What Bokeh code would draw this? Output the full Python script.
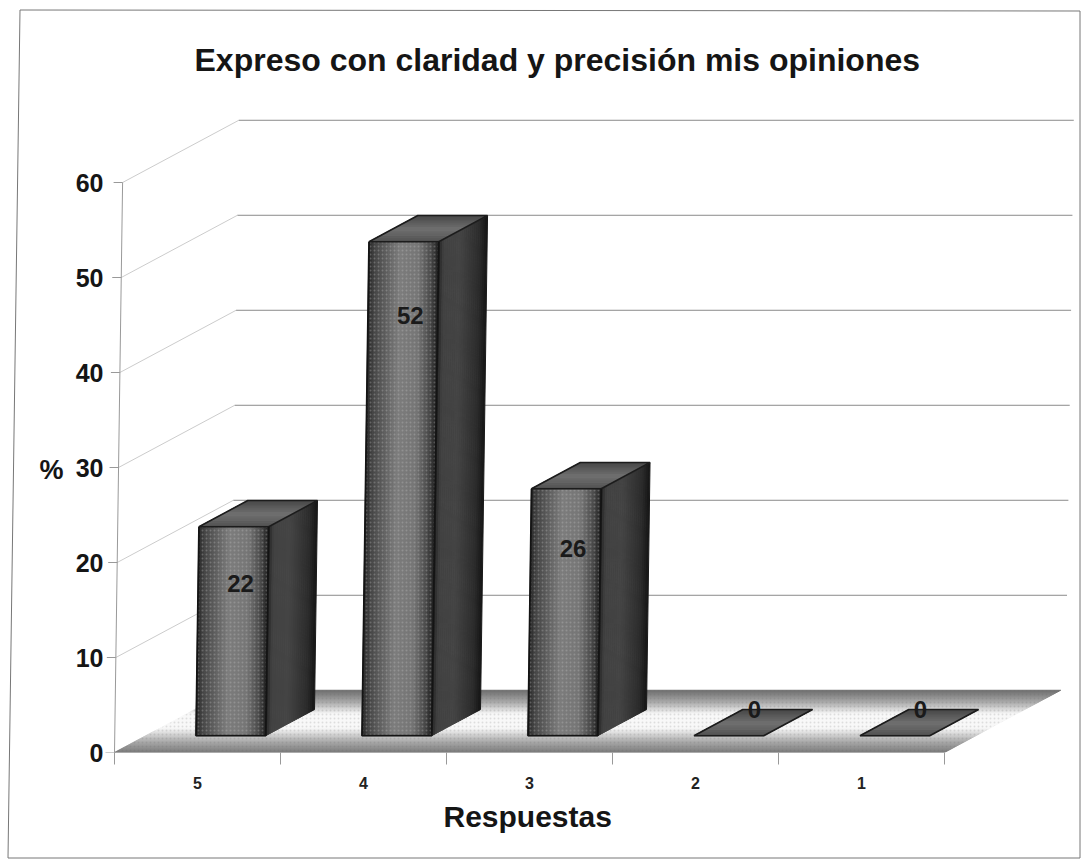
from urllib.parse import quote
from bokeh.plotting import figure
from bokeh.models import Title, LinearAxis, FixedTicker, Range1d
from bokeh.core.properties import value
from bokeh.embed import file_html
from bokeh.resources import INLINE

TITLE = "Expreso con claridad y precisión mis opiniones"
X_TITLE = "Respuestas"
Y_TITLE = "%"
Y_TITLE_AT = 29.7
categories = ["5", "4", "3", "2", "1"]
values = [22, 52, 26, 0, 0]
y_ticks = [0, 10, 20, 30, 40, 50, 60]

FONT = "Liberation Sans"
PX_X = 166.0   # px per category
PX_Y = 9.5     # px per unit
DX, DY = 0.70, 6.55     # full depth of the floor, in data units
LEAN = 0.135 / PX_X     # the scan leans: categories per value unit
BAR_W = 0.42
F_FRONT, F_BACK = 0.27, 0.69
BAR_OFF = 0.302


def proj(c, v, d=0.0):
    return (c + d * DX + v * LEAN, v + d * DY)


def mix(stops, t):
    for (t0, g0), (t1, g1) in zip(stops, stops[1:]):
        if t <= t1:
            g = g0 + (g1 - g0) * (t - t0) / (t1 - t0)
            g = int(round(g))
            return "#%02x%02x%02x" % (g, g, g)
    g = stops[-1][1]
    return "#%02x%02x%02x" % (g, g, g)


W, H = 1083, 860
svg = ("<svg xmlns='http://www.w3.org/2000/svg' width='1083' height='860'>"
       "<polygon points='20,10 1080,11 1080,858 8,858' fill='white' stroke='#777777' stroke-width='1'/></svg>")
p = figure(width=W, height=H, output_backend="svg", toolbar_location=None,
           x_range=Range1d(-10 / PX_X, 969 / PX_X), y_range=Range1d(0, 652 / PX_Y),
           min_border_left=104, min_border_right=0, min_border_top=100, min_border_bottom=108,
           background_fill_color=None, border_fill_color=None)
p.styles = {"background-image": 'url("data:image/svg+xml,%s")' % quote(svg)}
p.outline_line_color = None
p.grid.visible = False

# title
p.title.text = TITLE
p.title.text_font = FONT
p.title.text_font_size = "32px"
p.title.text_font_style = "bold"
p.title.text_color = "#151515"
p.title.align = "left"
p.title.offset = 90
p.title.standoff = 46

# real axes
xa = p.xaxis[0]
xa.ticker = FixedTicker(ticks=[i + 0.5 for i in range(len(categories))],
                        minor_ticks=list(range(len(categories) + 1)))
xa.major_label_overrides = {i + 0.5: c for i, c in enumerate(categories)}
xa.major_tick_in = 0
xa.major_tick_out = 0
xa.minor_tick_in = 0
xa.minor_tick_out = 12
xa.minor_tick_line_color = "#999999"
xa.axis_line_color = None
xa.major_label_standoff = 12
xa.major_label_text_font = FONT
xa.major_label_text_font_style = "bold"
xa.major_label_text_font_size = "16px"
xa.major_label_text_color = "#222222"

ya = p.yaxis[0]
ya.ticker = FixedTicker(ticks=y_ticks)
ya.major_tick_in = 0
ya.major_tick_out = 0
ya.minor_tick_line_color = None
ya.axis_line_color = None
ya.major_label_standoff = 1
ya.major_label_text_font = FONT
ya.major_label_text_font_style = "bold"
ya.major_label_text_font_size = "25px"
ya.major_label_text_color = "#151515"

# axis titles: "%" sits beside the value axis, "Respuestas" under the category axis
ya2 = LinearAxis(ticker=FixedTicker(ticks=[Y_TITLE_AT]), major_label_overrides={Y_TITLE_AT: Y_TITLE})
ya2.major_tick_in = 0
ya2.major_tick_out = 0
ya2.minor_tick_line_color = None
ya2.axis_line_color = None
ya2.major_label_standoff = 9
ya2.major_label_text_font = FONT
ya2.major_label_text_font_style = "bold"
ya2.major_label_text_font_size = "27px"
ya2.major_label_text_color = "#151515"
p.add_layout(ya2, "left")

p.add_layout(Title(text=X_TITLE, align="left", offset=339, standoff=13, text_font=FONT,
                   text_font_size="30px", text_font_style="bold", text_color="#151515"), "below")

# walls: gridlines, leaning axis line and tick marks
n = len(categories)
for v in y_ticks[1:]:
    a = proj(0, v)
    b = proj(0, v, 1)
    c = proj(n, v, 1)
    p.line([a[0], b[0]], [a[1], b[1]], line_color="#cccccc", line_width=1)
    p.line([b[0], c[0] + 0.03], [b[1], c[1]], line_color="#8a8a8a", line_width=1)
for v in y_ticks:
    a = proj(0, v)
    p.line([a[0] - 9 / PX_X, a[0]], [a[1], a[1]], line_color="#999999", line_width=1)
a = proj(0, 0)
b = proj(0, y_ticks[-1])
p.line([a[0], b[0]], [a[1], b[1]], line_color="#999999", line_width=1)

# floor, as shaded strips running along the depth
floor_stops = [(0, 0x78), (0.2, 0xb0), (0.4, 0xf8), (0.63, 0xf8), (0.8, 0xb0), (1, 0x70)]
N = 62
xs, ys, cs = [], [], []
for i in range(N):
    t0, t1 = i / N, (i + 1) / N
    q = [proj(0, 0, t0), proj(n, 0, t0), proj(n, 0, t1), proj(0, 0, t1)]
    xs.append([k[0] for k in q])
    ys.append([k[1] for k in q])
    cs.append(mix(floor_stops, (t0 + t1) / 2))
p.patches(xs, ys, fill_color=cs, line_color=cs, line_width=1)
q = [proj(0, 0, 0), proj(n, 0, 0), proj(n, 0, 1), proj(0, 0, 1)]
p.patch([k[0] for k in q], [k[1] for k in q], fill_color=None, line_color=None,
        hatch_pattern="dot", hatch_color="#666666", hatch_alpha=0.18, hatch_scale=4)

# bars
front_stops = [(0, 0x26), (0.1, 0x46), (0.45, 0x7c), (0.72, 0x76), (0.9, 0x4a), (1, 0x22)]
side_stops = [(0, 0x20), (0.12, 0x42), (0.45, 0x44), (0.85, 0x2c), (1, 0x16)]
top_stops = [(0, 0x50), (0.5, 0x70), (1, 0x48)]
M = 35
for i, val in enumerate(values):
    c0 = i + BAR_OFF
    c1 = c0 + BAR_W
    if val > 0:
        # front face
        xs, ys, cs = [], [], []
        for j in range(M):
            t0, t1 = j / M, (j + 1) / M
            l, r = c0 + t0 * BAR_W, c0 + t1 * BAR_W
            q = [proj(l, 0, F_FRONT), proj(r, 0, F_FRONT), proj(r, val, F_FRONT), proj(l, val, F_FRONT)]
            xs.append([k[0] for k in q])
            ys.append([k[1] for k in q])
            cs.append(mix(front_stops, (t0 + t1) / 2))
        p.patches(xs, ys, fill_color=cs, line_color=cs, line_width=1)
        # side face
        xs, ys, cs = [], [], []
        for j in range(24):
            t0, t1 = j / 24, (j + 1) / 24
            d0 = F_FRONT + t0 * (F_BACK - F_FRONT)
            d1 = F_FRONT + t1 * (F_BACK - F_FRONT)
            q = [proj(c1, 0, d0), proj(c1, 0, d1), proj(c1, val, d1), proj(c1, val, d0)]
            xs.append([k[0] for k in q])
            ys.append([k[1] for k in q])
            cs.append(mix(side_stops, (t0 + t1) / 2))
        p.patches(xs, ys, fill_color=cs, line_color=cs, line_width=1)
        q = [proj(c0, 0, F_FRONT), proj(c1, 0, F_FRONT), proj(c1, val, F_FRONT), proj(c0, val, F_FRONT)]
        p.patch([k[0] for k in q], [k[1] for k in q], fill_color=None, line_color=None,
                hatch_pattern="dot", hatch_color="#c8c8c8", hatch_alpha=0.3, hatch_scale=4)
    # top face (also the flat plate of the zero bars)
    xs, ys, cs = [], [], []
    for j in range(12):
        t0, t1 = j / 12, (j + 1) / 12
        d0 = F_FRONT + t0 * (F_BACK - F_FRONT)
        d1 = F_FRONT + t1 * (F_BACK - F_FRONT)
        q = [proj(c0, val, d0), proj(c1, val, d0), proj(c1, val, d1), proj(c0, val, d1)]
        xs.append([k[0] for k in q])
        ys.append([k[1] for k in q])
        cs.append(mix(top_stops, (t0 + t1) / 2))
    p.patches(xs, ys, fill_color=cs, line_color=cs, line_width=1)
    # dark edges
    q = [proj(c0, val, F_FRONT), proj(c1, val, F_FRONT), proj(c1, val, F_BACK), proj(c0, val, F_BACK)]
    p.patch([k[0] for k in q], [k[1] for k in q], fill_color=None, line_color="#1c1c1c", line_width=1.6)
    if val > 0:
        q = [proj(c0, val, F_FRONT), proj(c0, 0, F_FRONT), proj(c1, 0, F_FRONT), proj(c1, val, F_FRONT)]
        p.line([k[0] for k in q], [k[1] for k in q], line_color="#141414", line_width=1.8)

# value labels
lx, ly, lt = [], [], []
for i, val in enumerate(values):
    c0 = i + BAR_OFF
    if val > 0:
        k = proj(c0 + BAR_W / 2 + 0.045, val * 0.94 - 4.7, F_FRONT)
    else:
        k = proj(c0 + BAR_W / 2 - 0.14, val, F_BACK)
    lx.append(k[0])
    ly.append(k[1])
    lt.append(str(val))
p.text(lx, ly, text=lt, text_font=value(FONT), text_font_size="24px", text_font_style="bold",
       text_color="#1a1a1a", text_align="center", text_baseline="middle")

open("out.html", "w").write(file_html(p, INLINE))
